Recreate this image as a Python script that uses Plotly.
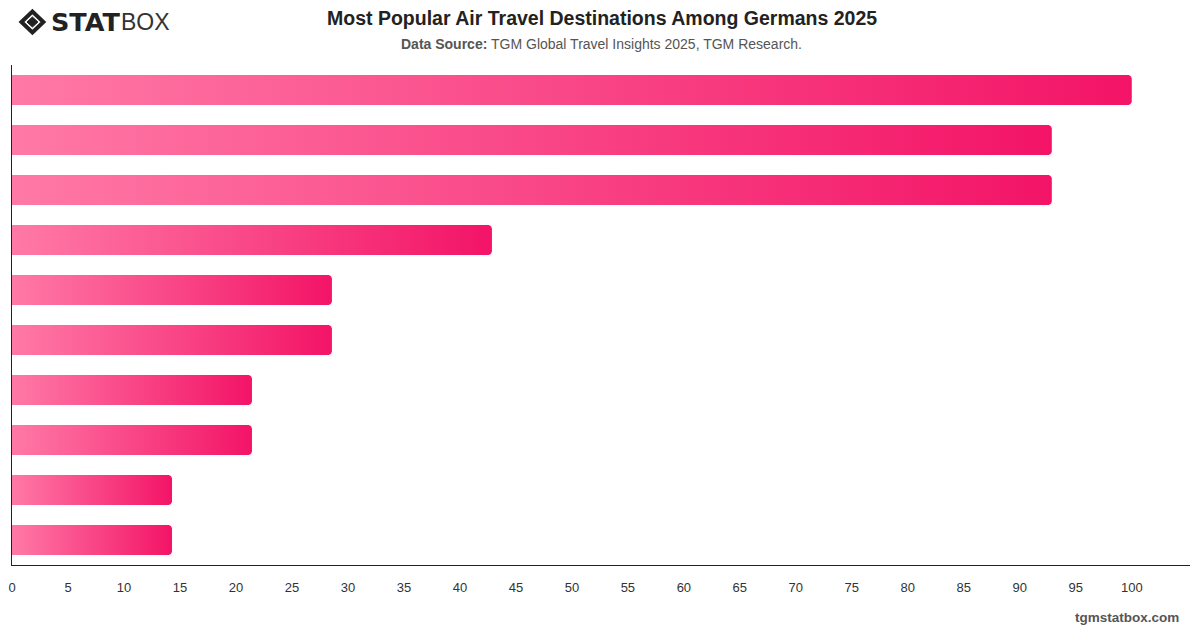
import plotly.graph_objects as go
import numpy as np

# ---- data ----
categories = ["Rank 1", "Rank 2", "Rank 3", "Rank 4", "Rank 5",
              "Rank 6", "Rank 7", "Rank 8", "Rank 9", "Rank 10"]
values = [100, 92.86, 92.86, 42.86, 28.57, 28.57, 21.43, 21.43, 14.29, 14.29]
tick_vals = list(range(0, 101, 5))
tick_labels = [str(v) for v in tick_vals]

W, H = 1200, 628
ML, MR, MT, MB = 8, 10, 65, 63
XMAX = 105.2
BAR_W = 0.6
COL_LIGHT = "#FF79A6"
COL_DARK = "#F31467"

plot_w = W - ML - MR
plot_h = H - MT - MB
n = len(categories)
px_x = plot_w / XMAX          # pixels per x unit
px_y = plot_h / n             # pixels per category
radius_px = 4
rx = radius_px / px_x
ry = radius_px / px_y

fig = go.Figure()
for i, (cat, v) in enumerate(zip(categories, values)):
    top = i - BAR_W / 2
    bot = i + BAR_W / 2
    xs = [0, v - rx]
    ys = [top, top]
    for a in np.linspace(-np.pi / 2, 0, 8):
        xs.append(v - rx + rx * np.cos(a))
        ys.append(top + ry + ry * np.sin(a))
    for a in np.linspace(0, np.pi / 2, 8):
        xs.append(v - rx + rx * np.cos(a))
        ys.append(bot - ry + ry * np.sin(a))
    xs += [v - rx, 0, 0]
    ys += [bot, bot, top]
    fig.add_trace(go.Scatter(
        x=xs, y=ys, mode="none", fill="toself",
        fillgradient=dict(type="horizontal",
                          colorscale=[[0, COL_LIGHT], [1, COL_DARK]]),
        name=cat, hoverinfo="skip", showlegend=False,
    ))

fig.update_layout(
    width=W, height=H,
    margin=dict(l=ML, r=MR, t=MT, b=MB),
    paper_bgcolor="white", plot_bgcolor="white",
    font=dict(family="Liberation Sans, Arial, sans-serif", color="#333"),
    showlegend=False,
)
fig.update_xaxes(
    range=[0, XMAX], tickvals=tick_vals, ticktext=tick_labels,
    showgrid=False, zeroline=False, showline=True, linecolor="#222", linewidth=1,
    ticks="", tickfont=dict(size=13, color="#333"), ticklabelstandoff=10,
    fixedrange=True,
)
fig.update_yaxes(
    range=[n - 0.5, -0.5], showticklabels=False, showgrid=False, zeroline=False,
    showline=True, linecolor="#222", linewidth=1, ticks="", fixedrange=True,
)


def pxx(p):
    return (p - ML) / plot_w


def pxy(p):
    return 1 - (p - MT) / plot_h


# title & subtitle
fig.add_annotation(text="<b>Most Popular Air Travel Destinations Among Germans 2025</b>",
                   xref="paper", yref="paper", x=pxx(600), y=pxy(18),
                   xanchor="center", yanchor="middle", showarrow=False,
                   font=dict(size=19.5, color="#222"))
fig.add_annotation(text="<b>Data Source:</b> TGM Global Travel Insights 2025, TGM Research.",
                   xref="paper", yref="paper", x=pxx(600), y=pxy(44),
                   xanchor="center", yanchor="middle", showarrow=False,
                   font=dict(size=14, color="#555"))
# footer
fig.add_annotation(text="<b>tgmstatbox.com</b>",
                   xref="paper", yref="paper", x=pxx(1181), y=pxy(617),
                   xanchor="right", yanchor="middle", showarrow=False,
                   font=dict(size=13.5, color="#555"))

# logo
cx, cy = 28.5, 22
fig.add_shape(type="path", xref="paper", yref="paper",
              path=f"M {pxx(cx-11)} {pxy(cy)} L {pxx(cx)} {pxy(cy-10.5)} L {pxx(cx+11)} {pxy(cy)} L {pxx(cx)} {pxy(cy+10.5)} Z",
              line=dict(color="#222", width=4), fillcolor="rgba(0,0,0,0)")
fig.add_shape(type="path", xref="paper", yref="paper",
              path=f"M {pxx(cx-5.5)} {pxy(cy)} L {pxx(cx)} {pxy(cy-5)} L {pxx(cx+5.5)} {pxy(cy)} L {pxx(cx)} {pxy(cy+5)} Z",
              line=dict(color="#222", width=1), fillcolor="#222")
fig.add_annotation(text="<b>STAT</b>", xref="paper", yref="paper",
                   x=pxx(45), y=pxy(22), xanchor="left", yanchor="middle",
                   showarrow=False,
                   font=dict(size=25.5, color="#222", family="DejaVu Sans, sans-serif"))
fig.add_annotation(text="BOX", xref="paper", yref="paper",
                   x=pxx(115), y=pxy(22), xanchor="left", yanchor="middle",
                   showarrow=False,
                   font=dict(size=23, color="#333", family="Liberation Sans, sans-serif"))

fig.write_html("out.html")
